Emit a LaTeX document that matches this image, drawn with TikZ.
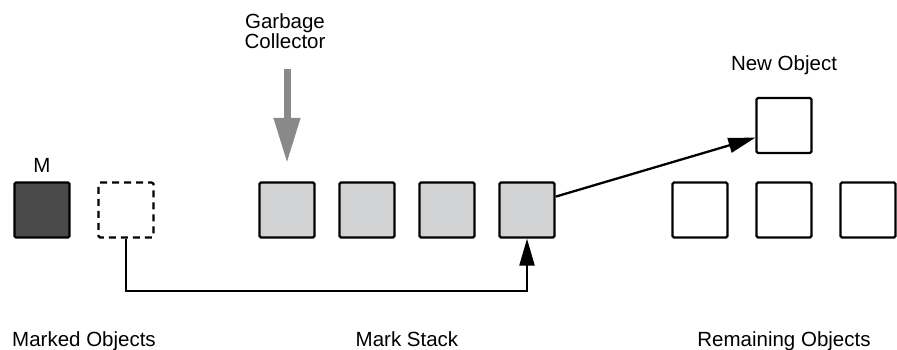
\documentclass[tikz,border=0pt]{standalone}
\usepackage{fontspec}
\setmainfont{Liberation Sans}
\usetikzlibrary{arrows.meta,positioning}
\definecolor{markgray}{HTML}{4A4A4A}
\definecolor{stackgray}{HTML}{D2D3D5}
\definecolor{gcgray}{HTML}{898989}
\tikzset{
  objbox/.style={
    rectangle, rounded corners=1.5pt, draw=black, line width=2.3pt,
    minimum size=55pt, inner sep=0pt, fill=white
  },
  markbox/.style={objbox, fill=markgray},
  stackbox/.style={objbox, fill=stackgray},
  freebox/.style={objbox, dash pattern=on 7pt off 5pt, dash phase=3pt},
  lbl/.style={font=\fontsize{20.5}{20}\selectfont, inner sep=0pt, align=center},
  conn/.style={line width=2.3pt, line join=miter, -{Triangle[length=27pt,width=15pt]}},
  gcarrow/.style={line width=7pt, draw=gcgray, -{Triangle[length=45pt,width=25pt]}},
}
\begin{document}
\begin{tikzpicture}[x=1pt, y=-1pt]
  \useasboundingbox (0,0) rectangle (897,350);
  % marked objects
  \node (mk) [markbox] at (42,210) {};
  \node (fr) [freebox] at (126,210) {};
  \node [lbl, above=9pt of mk] {M};
  % mark stack
  \foreach \i in {1,...,4}
    \node (s\i) [stackbox] at ({287+80*(\i-1)},210) {};
  % remaining objects
  \node (r1) [objbox] at (700,210) {};
  \node (r2) [objbox] at (784,210) {};
  \node (r3) [objbox] at (868,210) {};
  \node (nw) [objbox] at (784,125.5) {};
  \node [lbl, above=22pt of nw] {New Object};
  % garbage collector
  \node (gc) [lbl] at (285,31) {Garbage\\Collector};
  \coordinate (gctop) at (287,69);
  \coordinate (gctip) at (287,163);
  \draw[gcarrow] (gctop) -- (gctip);
  % connectors
  \draw[conn] (fr.south) -- ++(0,52) -| (s4.south);
  \draw[conn] (s4.25) -- (nw.203);
  % captions
  \node [lbl, anchor=base] at (84,346) {Marked Objects};
  \node [lbl, anchor=base] at (407,346) {Mark Stack};
  \node [lbl, anchor=base] at (784,346) {Remaining Objects};
\end{tikzpicture}
\end{document}
